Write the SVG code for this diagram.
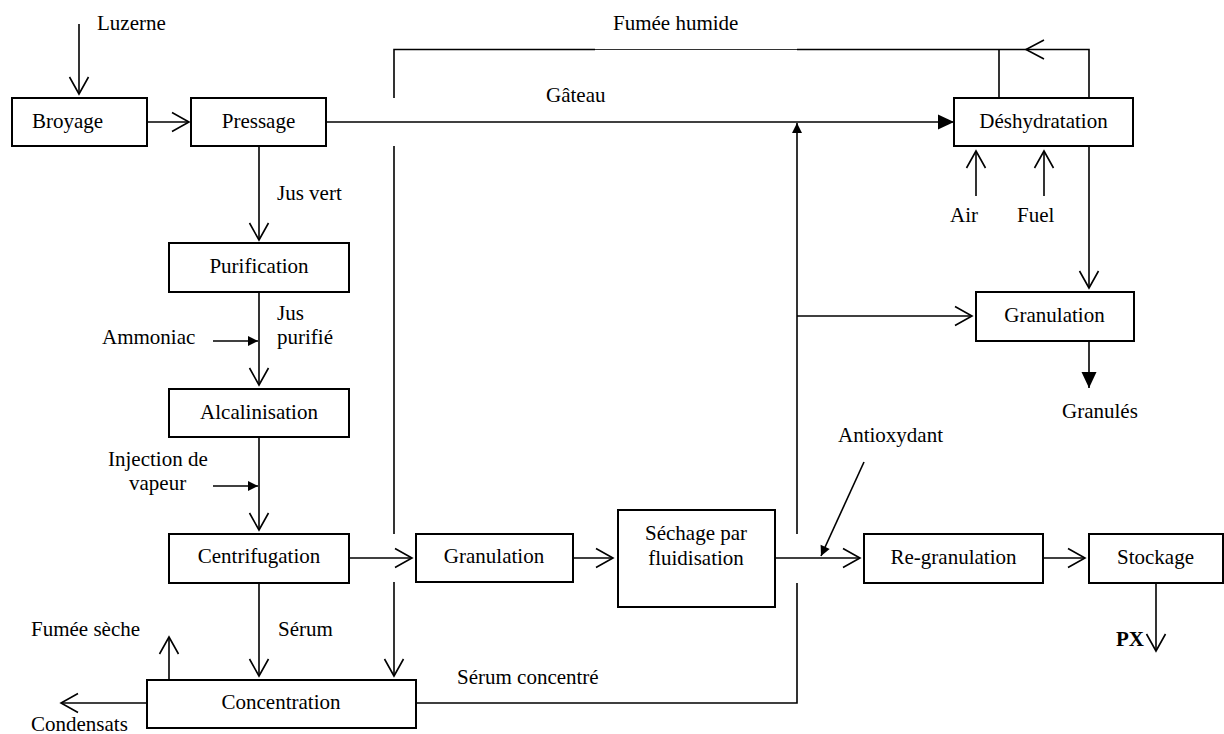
<svg xmlns="http://www.w3.org/2000/svg" width="1224" height="734" viewBox="0 0 1224 734">
  <style>
    .box { fill: #fff; stroke: #000; stroke-width: 2; }
    .lbl { font-family: "Liberation Serif", "Times New Roman", serif; font-size: 21px; fill: #000; }
    .mid { text-anchor: middle; }
    .ln { fill: none; stroke: #000; stroke-width: 1.6; }
    .thin { fill: none; stroke: #333; stroke-width: 1; }
    .open { marker-end: url(#open); }
    .solid { marker-end: url(#solid); }
    .small { marker-end: url(#small); }
  </style>
  <defs>
    <marker id="open" markerUnits="userSpaceOnUse" viewBox="-19 -11 21 22" refX="0" refY="0" markerWidth="21" markerHeight="22" orient="auto">
      <path d="M-17,-9.5 L0,0 L-17,9.5" fill="none" stroke="#000" stroke-width="1.6"/>
    </marker>
    <marker id="solid" markerUnits="userSpaceOnUse" viewBox="-17 -9 18 18" refX="0" refY="0" markerWidth="18" markerHeight="18" orient="auto">
      <path d="M-16,-7.5 L0,0 L-16,7.5 Z" fill="#000"/>
    </marker>
    <marker id="small" markerUnits="userSpaceOnUse" viewBox="-11 -6 12 12" refX="0" refY="0" markerWidth="12" markerHeight="12" orient="auto">
      <path d="M-10,-5 L0,0 L-10,5 Z" fill="#000"/>
    </marker>
  </defs>

  <!-- connectors -->
  <g id="connectors">
    <line class="ln open" x1="79" y1="24" x2="79" y2="94"/>
    <line class="ln open" x1="147" y1="122" x2="189" y2="122"/>
    <line class="ln solid" x1="326" y1="122" x2="954" y2="122"/>
    <line class="ln open" x1="259" y1="146" x2="259" y2="240"/>
    <line class="ln open" x1="259" y1="292" x2="259" y2="385"/>
    <line class="ln small" x1="213" y1="341" x2="258" y2="341"/>
    <line class="ln open" x1="259" y1="437" x2="259" y2="530"/>
    <line class="ln small" x1="213" y1="486" x2="258" y2="486"/>
    <line class="ln open" x1="349" y1="558" x2="412" y2="558"/>
    <line class="ln open" x1="259" y1="583" x2="259" y2="676"/>
    <line class="ln open" x1="169" y1="680" x2="169" y2="637"/>
    <line class="ln open" x1="147" y1="703" x2="61" y2="703"/>
    <!-- concentrated serum return line -->
    <polyline class="ln" points="416,703 797,703 797,583"/>
    <line class="ln small" x1="797" y1="534" x2="797" y2="123"/>
    <line class="ln open" x1="797" y1="316" x2="972" y2="316"/>
    <line class="ln open" x1="573" y1="558" x2="613" y2="558"/>
    <line class="ln open" x1="775" y1="558" x2="860" y2="558"/>
    <line class="ln small" x1="864" y1="462" x2="821" y2="556"/>
    <line class="ln open" x1="1043" y1="558" x2="1085" y2="558"/>
    <line class="ln open" x1="1156" y1="583" x2="1156" y2="651"/>
    <line class="ln open" x1="1089" y1="146" x2="1089" y2="288"/>
    <line class="ln solid" x1="1089" y1="341" x2="1089" y2="388"/>
    <line class="ln open" x1="976" y1="196" x2="976" y2="151"/>
    <line class="ln open" x1="1044" y1="196" x2="1044" y2="151"/>
    <!-- wet smoke recycle loop -->
    <line class="ln" x1="999" y1="98" x2="999" y2="49.5"/>
    <polyline class="ln" points="1089,98 1089,49.5 797,49.5"/>
    <line class="thin" x1="797" y1="49.5" x2="595" y2="49.5"/>
    <polyline class="ln" points="595,49.5 394,49.5 394,98"/>
    <path class="ln" d="M1044,40 L1026,49.5 L1044,59"/>
    <line class="ln" x1="394" y1="146" x2="394" y2="534"/>
    <line class="ln open" x1="394" y1="582" x2="394" y2="676"/>
  </g>

  <!-- process steps -->
  <g id="broyage"><rect class="box" x="12" y="98" width="135" height="48"/><text class="lbl" x="32" y="128">Broyage</text></g>
  <g id="pressage"><rect class="box" x="191" y="98" width="135" height="48"/><text class="lbl mid" x="258.5" y="128">Pressage</text></g>
  <g id="purification"><rect class="box" x="169" y="243" width="180" height="49"/><text class="lbl mid" x="259" y="273">Purification</text></g>
  <g id="alcalinisation"><rect class="box" x="169" y="389" width="180" height="48"/><text class="lbl mid" x="259" y="419">Alcalinisation</text></g>
  <g id="centrifugation"><rect class="box" x="169" y="534" width="180" height="49"/><text class="lbl mid" x="259" y="563">Centrifugation</text></g>
  <g id="concentration"><rect class="box" x="147" y="680" width="269" height="48"/><text class="lbl mid" x="281" y="709">Concentration</text></g>
  <g id="granulation-1"><rect class="box" x="416" y="534" width="157" height="48"/><text class="lbl mid" x="494" y="563">Granulation</text></g>
  <g id="sechage"><rect class="box" x="618" y="510" width="157" height="97"/><text class="lbl mid" x="696" y="540">Séchage par</text><text class="lbl mid" x="696" y="565">fluidisation</text></g>
  <g id="regranulation"><rect class="box" x="864" y="534" width="179" height="49"/><text class="lbl mid" x="953.5" y="564">Re-granulation</text></g>
  <g id="stockage"><rect class="box" x="1089" y="534" width="134" height="49"/><text class="lbl mid" x="1155.5" y="564">Stockage</text></g>
  <g id="deshydratation"><rect class="box" x="954" y="98" width="179" height="48"/><text class="lbl mid" x="1043.5" y="128">Déshydratation</text></g>
  <g id="granulation-2"><rect class="box" x="976" y="292" width="158" height="49"/><text class="lbl mid" x="1054.5" y="322">Granulation</text></g>

  <!-- flow labels -->
  <g id="labels">
    <text class="lbl" x="97" y="30">Luzerne</text>
    <text class="lbl" x="613" y="30">Fumée humide</text>
    <text class="lbl" x="546" y="102">Gâteau</text>
    <text class="lbl" x="277" y="200">Jus vert</text>
    <text class="lbl" x="277" y="320">Jus</text>
    <text class="lbl" x="277" y="344">purifié</text>
    <text class="lbl" x="102" y="344">Ammoniac</text>
    <text class="lbl" x="108" y="466">Injection de</text>
    <text class="lbl" x="129" y="490">vapeur</text>
    <text class="lbl" x="278" y="636">Sérum</text>
    <text class="lbl" x="31" y="636">Fumée sèche</text>
    <text class="lbl" x="31" y="731">Condensats</text>
    <text class="lbl" x="457" y="684">Sérum concentré</text>
    <text class="lbl" x="950" y="222">Air</text>
    <text class="lbl" x="1017" y="222">Fuel</text>
    <text class="lbl" x="1062" y="418">Granulés</text>
    <text class="lbl" x="838" y="442">Antioxydant</text>
    <text class="lbl" x="1116" y="646" font-weight="bold">PX</text>
  </g>
</svg>
